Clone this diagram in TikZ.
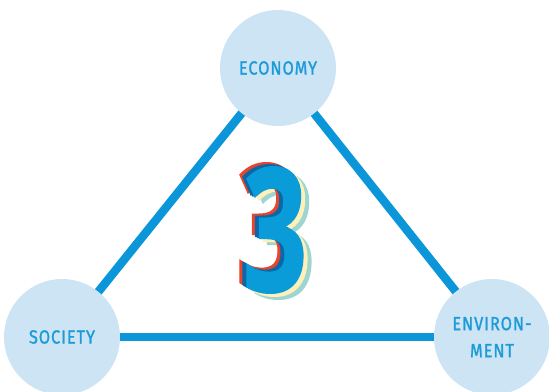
\documentclass[tikz,border=0pt]{standalone}
\usepackage{fontspec}
\setmainfont{Fira Sans}
\newfontfamily\labelfont[FakeStretch=0.86,LetterSpace=5,FakeBold=1.2]{Fira Sans}
\newfontfamily\digitfont[FakeBold=1]{Open Sans}
\usetikzlibrary{positioning,backgrounds}
\definecolor{linkblue}{HTML}{0A96D8}
\definecolor{discblue}{HTML}{CDE4F4}
\definecolor{textblue}{HTML}{1B9BD7}
\definecolor{facered}{HTML}{E8452C}
\definecolor{deepblue}{HTML}{0B68A8}
\definecolor{faceblue}{HTML}{0A9BD9}
\definecolor{creamy}{HTML}{FDF0B8}
\definecolor{tealy}{HTML}{9FD5D1}
\tikzset{
  pillar/.style={circle,fill=discblue,minimum size=116pt,inner sep=0pt,
    text=textblue,font=\labelfont\fontsize{19}{27}\selectfont,align=center},
  link/.style={linkblue,line width=8.5pt},
  digit/.style={inner sep=0pt,font=\digitfont\bfseries\fontsize{172}{172}\selectfont}
}
\newcommand{\three}{\scalebox{0.66}[1]{3}}

\begin{document}
\begin{tikzpicture}[x=1pt,y=-1pt]
        \useasboundingbox (0,0) rectangle (549,391);
        % Pillars
        \node[pillar] (eco) at (278,68) {ECONOMY};
        \node[pillar] (soc) at (62,337) {SOCIETY};
        \node[pillar] (env) at (492,337) {ENVIRON-\\MENT};
        % Links behind the pillars
        \begin{scope}[on background layer]
            \draw[link] (eco.center) -- (soc.center);
            \draw[link] (eco.center) -- (env.center);
            \draw[link] (soc.center) -- (env.center);
        \end{scope}
        % Layered numeral
        \node[digit,text=tealy] (t5) at (283,236) {\three};
        \node[digit,text=creamy] (t4) at (279,233) {\three};
        \node[digit,text=facered] (t3) at (268,226) {\three};
        \node[digit,text=deepblue] (t2) at (271,228) {\three};
        \node[digit,text=deepblue] (t1) at (273,229) {\three};
        \node[digit,text=faceblue] (t0) at (275,230) {\three};
    \end{tikzpicture}
\end{document}
